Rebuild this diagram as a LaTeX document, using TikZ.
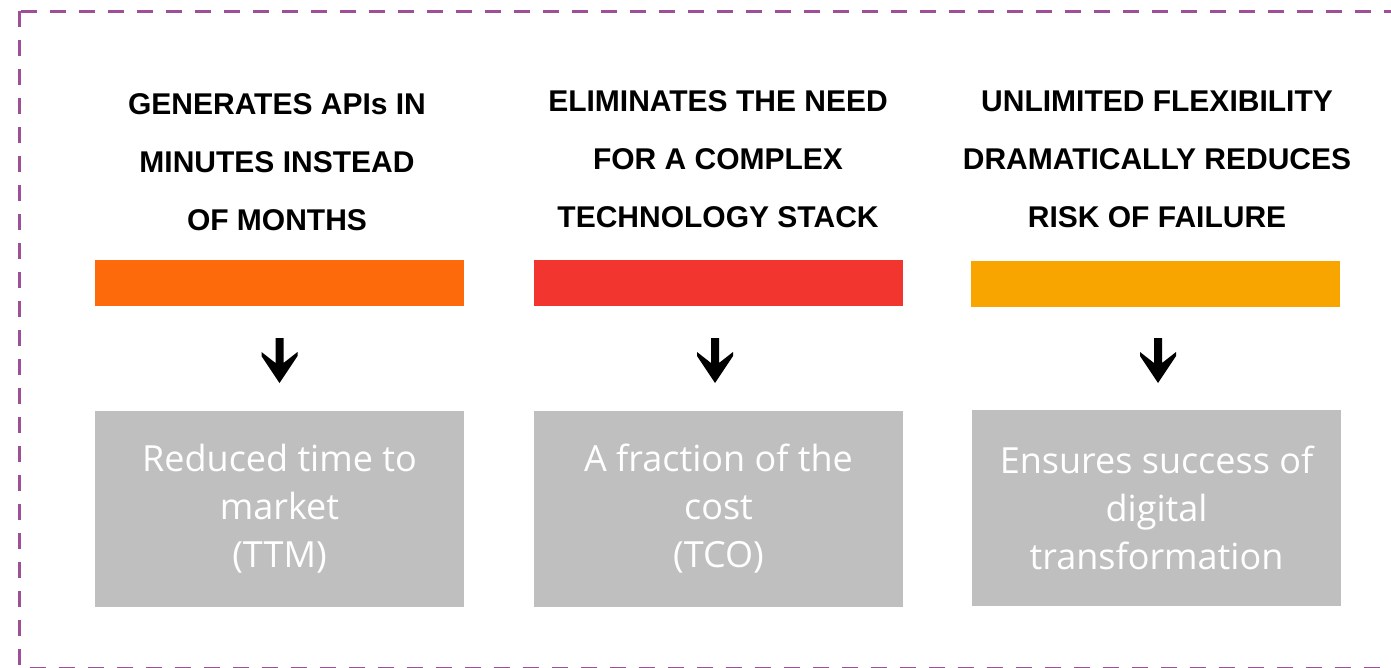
\documentclass[tikz,border=0pt]{standalone}
\usepackage{fontspec}
\setmainfont{Liberation Sans}
\newfontfamily\boxfont{Open Sans}
\usetikzlibrary{positioning,calc}

\definecolor{frameviolet}{HTML}{9E4F97}
\definecolor{barorange}{HTML}{FC6A0B}
\definecolor{barred}{HTML}{F2362F}
\definecolor{baramber}{HTML}{F9A500}
\definecolor{boxgray}{HTML}{BFBFBF}

\tikzset{frame/.style={frameviolet,line width=3pt,dash pattern=on 16pt off 13pt}}
\tikzset{headline/.style={align=center,font=\fontsize{30}{58}\selectfont\bfseries,inner sep=0pt}}
\tikzset{bar/.style={minimum width=369pt,minimum height=46pt,inner sep=0pt}}
\tikzset{result/.style={fill=boxgray,text=white,align=center,minimum width=369pt,minimum height=196pt,inner sep=0pt,font=\boxfont\fontsize{36}{48}\selectfont}}
\tikzset{fatarrow/.style={fill=black}}

\begin{document}
\begin{tikzpicture}[x=1pt,y=-1pt]
        \useasboundingbox (0,0) rectangle (1391,667);
        \clip (0,0) rectangle (1391,667);
        % draw the dashed frame
        \draw[frame] (19.5,11) rectangle (1430,668);

        % first column
        \node[headline] (head1) at (277,162) {GENERATES APIs IN\\MINUTES INSTEAD\\OF MONTHS};
        \node[bar,fill=barorange] (bar1) at (279.5,283) {};
        \node[result] (box1) at (279.5,509) {Reduced time to\\market\\(TTM)};

        % second column
        \node[headline] (head2) at (718,159) {ELIMINATES THE NEED\\FOR A COMPLEX\\TECHNOLOGY STACK};
        \node[bar,fill=barred] (bar2) at (718,283) {};
        \node[result] (box2) at (718.5,509) {A fraction of the\\cost\\(TCO)};

        % third column
        \node[headline] (head3) at (1157,159) {UNLIMITED FLEXIBILITY\\DRAMATICALLY REDUCES\\RISK OF FAILURE};
        \node[bar,fill=baramber] (bar3) at (1155.5,283.5) {};
        \node[result] (box3) at (1156.5,508) {Ensures success of\\digital\\transformation};

        % draw the down arrows between bar and box
        \coordinate (tip1) at (bar1.south |- 0,382);
        \coordinate (tip2) at (715,382);
        \coordinate (tip3) at (1158,382);
        \foreach \t in {tip1,tip2,tip3}
            \fill[fatarrow] (\t) ++(-4,-44) -- ++(8,0) -- ++(0,25) -- ++(14,-11) -- ++(0,4)
                -- ++(-18,27) -- ++(-18,-27) -- ++(0,-4) -- ++(14,11) -- cycle;
    \end{tikzpicture}
\end{document}
